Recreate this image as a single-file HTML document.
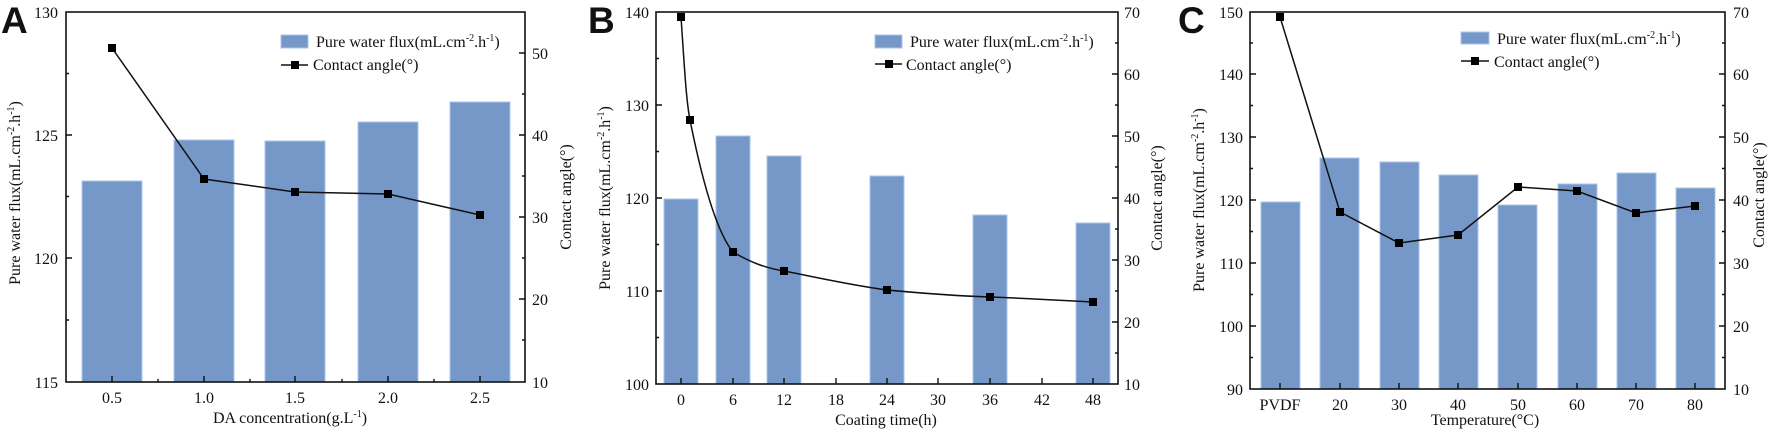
<!DOCTYPE html>
<html><head><meta charset="utf-8"><style>
html,body{margin:0;padding:0;background:#fff}
svg{display:block}
text{font-family:"Liberation Serif",serif;font-size:16px;fill:#111}
.L{font-family:"Liberation Sans",sans-serif;font-weight:bold;font-size:37px}
.bar{fill:#7698c9;stroke:#a9c4ec;stroke-width:1}
.ax{fill:none;stroke:#111;stroke-width:1.6}
.tk{fill:none;stroke:#111;stroke-width:1.4}
.ln{fill:none;stroke:#111;stroke-width:1.5}
.mk{fill:#000}
</style></head><body>
<svg width="1772" height="432" viewBox="0 0 1772 432" xmlns="http://www.w3.org/2000/svg">
<!-- ================= PANEL A ================= -->
<text class="L" x="1" y="33">A</text>
<rect class="bar" x="82" y="181" width="60" height="201"/>
<rect class="bar" x="174" y="140" width="60" height="242"/>
<rect class="bar" x="265" y="141" width="60" height="241"/>
<rect class="bar" x="358" y="122" width="60" height="260"/>
<rect class="bar" x="450" y="102" width="60" height="280"/>
<rect class="ax" x="66" y="12" width="459" height="370"/>
<path class="tk" d="M66 135h6M66 258h6M66 73.5h3M66 196.5h3M66 320h3
M525 299h-6M525 217h-6M525 135h-6M525 53h-6M525 340h-3M525 258h-3M525 176h-3M525 94h-3
M112 382v-6M204 382v-6M295 382v-6M388 382v-6M480 382v-6M158 382v-3M250 382v-3M342 382v-3M434 382v-3"/>
<g text-anchor="end"><text x="58" y="18">130</text><text x="58" y="141">125</text><text x="58" y="264">120</text><text x="58" y="388">115</text></g>
<g><text x="532" y="59">50</text><text x="532" y="141">40</text><text x="532" y="223">30</text><text x="532" y="305">20</text><text x="532" y="388">10</text></g>
<g text-anchor="middle"><text x="112" y="403">0.5</text><text x="204" y="403">1.0</text><text x="295" y="403">1.5</text><text x="388" y="403">2.0</text><text x="480" y="403">2.5</text>
<text x="290" y="423">DA concentration(g.L<tspan font-size="10" dy="-6">-1</tspan><tspan dy="6">)</tspan></text></g>
<text text-anchor="middle" transform="translate(20,193) rotate(-90)">Pure water flux(mL.cm<tspan font-size="10" dy="-6">-2</tspan><tspan dy="6">.h</tspan><tspan font-size="10" dy="-6">-1</tspan><tspan dy="6">)</tspan></text>
<text text-anchor="middle" transform="translate(571,197) rotate(-90)">Contact angle(°)</text>
<polyline class="ln" points="112,48 204,179 295,192 388,194 480,215"/>
<g class="mk"><rect x="108" y="44" width="8" height="8"/><rect x="200" y="175" width="8" height="8"/><rect x="291" y="188" width="8" height="8"/><rect x="384" y="190" width="8" height="8"/><rect x="476" y="211" width="8" height="8"/></g>
<rect class="bar" x="281" y="35" width="27" height="13"/>
<text x="316" y="47">Pure water flux(mL.cm<tspan font-size="10" dy="-6">-2</tspan><tspan dy="6">.h</tspan><tspan font-size="10" dy="-6">-1</tspan><tspan dy="6">)</tspan></text>
<path class="ln" d="M281 65h27"/><rect class="mk" x="291" y="61" width="8" height="8"/>
<text x="313" y="70">Contact angle(°)</text>

<!-- ================= PANEL B ================= -->
<text class="L" x="588" y="33">B</text>
<rect class="bar" x="664" y="199" width="34" height="185"/>
<rect class="bar" x="716" y="136" width="34" height="248"/>
<rect class="bar" x="767" y="156" width="34" height="228"/>
<rect class="bar" x="870" y="176" width="34" height="208"/>
<rect class="bar" x="973" y="215" width="34" height="169"/>
<rect class="bar" x="1076" y="223" width="34" height="161"/>
<rect class="ax" x="656" y="12" width="462" height="372"/>
<path class="tk" d="M656 105h6M656 198h6M656 291h6M656 58.5h3M656 151.5h3M656 244.5h3M656 337.5h3
M1118 322h-6M1118 260h-6M1118 198h-6M1118 136h-6M1118 74h-6M1118 353h-3M1118 291h-3M1118 229h-3M1118 167h-3M1118 105h-3M1118 43h-3
M681 384v-6M733 384v-6M784 384v-6M836 384v-6M887 384v-6M938 384v-6M990 384v-6M1042 384v-6M1093 384v-6"/>
<g text-anchor="end"><text x="649" y="18">140</text><text x="649" y="111">130</text><text x="649" y="204">120</text><text x="649" y="297">110</text><text x="649" y="390">100</text></g>
<g><text x="1124" y="18">70</text><text x="1124" y="80">60</text><text x="1124" y="142">50</text><text x="1124" y="204">40</text><text x="1124" y="266">30</text><text x="1124" y="328">20</text><text x="1124" y="390">10</text></g>
<g text-anchor="middle"><text x="681" y="405">0</text><text x="733" y="405">6</text><text x="784" y="405">12</text><text x="836" y="405">18</text><text x="887" y="405">24</text><text x="938" y="405">30</text><text x="990" y="405">36</text><text x="1042" y="405">42</text><text x="1093" y="405">48</text>
<text x="886" y="425">Coating time(h)</text></g>
<text text-anchor="middle" transform="translate(610,198) rotate(-90)">Pure water flux(mL.cm<tspan font-size="10" dy="-6">-2</tspan><tspan dy="6">.h</tspan><tspan font-size="10" dy="-6">-1</tspan><tspan dy="6">)</tspan></text>
<text text-anchor="middle" transform="translate(1162,198) rotate(-90)">Contact angle(°)</text>
<path class="ln" d="M681 17 C684 60 686 100 690 120 C700 170 715 230 733 252 C750 262 765 268 784 271 C820 278 850 285 887 290 C930 294 960 296 990 297 C1040 299 1070 301 1093 302"/>
<g class="mk"><rect x="677" y="13" width="8" height="8"/><rect x="686" y="116" width="8" height="8"/><rect x="729" y="248" width="8" height="8"/><rect x="780" y="267" width="8" height="8"/><rect x="883" y="286" width="8" height="8"/><rect x="986" y="293" width="8" height="8"/><rect x="1089" y="298" width="8" height="8"/></g>
<rect class="bar" x="875" y="35" width="27" height="13"/>
<text x="910" y="47">Pure water flux(mL.cm<tspan font-size="10" dy="-6">-2</tspan><tspan dy="6">.h</tspan><tspan font-size="10" dy="-6">-1</tspan><tspan dy="6">)</tspan></text>
<path class="ln" d="M875 64h27"/><rect class="mk" x="885" y="60" width="8" height="8"/>
<text x="906" y="70">Contact angle(°)</text>

<!-- ================= PANEL C ================= -->
<text class="L" x="1178" y="33">C</text>
<rect class="bar" x="1261" y="202" width="39" height="187"/>
<rect class="bar" x="1320" y="158" width="39" height="231"/>
<rect class="bar" x="1380" y="162" width="39" height="227"/>
<rect class="bar" x="1439" y="175" width="39" height="214"/>
<rect class="bar" x="1498" y="205" width="39" height="184"/>
<rect class="bar" x="1558" y="184" width="39" height="205"/>
<rect class="bar" x="1617" y="173" width="39" height="216"/>
<rect class="bar" x="1676" y="188" width="39" height="201"/>
<rect class="ax" x="1250" y="12" width="475" height="377"/>
<path class="tk" d="M1250 326h6M1250 263h6M1250 200h6M1250 137h6M1250 74h6M1250 357.5h3M1250 294.5h3M1250 231.5h3M1250 168.5h3M1250 105.5h3M1250 43h3
M1725 326h-6M1725 263h-6M1725 200h-6M1725 137h-6M1725 74h-6M1725 357.5h-3M1725 294.5h-3M1725 231.5h-3M1725 168.5h-3M1725 105.5h-3M1725 43h-3
M1280 389v-6M1340 389v-6M1399 389v-6M1458 389v-6M1518 389v-6M1577 389v-6M1636 389v-6M1695 389v-6"/>
<g text-anchor="end"><text x="1243" y="18">150</text><text x="1243" y="80">140</text><text x="1243" y="143">130</text><text x="1243" y="206">120</text><text x="1243" y="269">110</text><text x="1243" y="332">100</text><text x="1243" y="395">90</text></g>
<g><text x="1733" y="18">70</text><text x="1733" y="80">60</text><text x="1733" y="143">50</text><text x="1733" y="206">40</text><text x="1733" y="269">30</text><text x="1733" y="332">20</text><text x="1733" y="395">10</text></g>
<g text-anchor="middle"><text x="1280" y="410">PVDF</text><text x="1340" y="410">20</text><text x="1399" y="410">30</text><text x="1458" y="410">40</text><text x="1518" y="410">50</text><text x="1577" y="410">60</text><text x="1636" y="410">70</text><text x="1695" y="410">80</text>
<text x="1485" y="425">Temperature(°C)</text></g>
<text text-anchor="middle" transform="translate(1204,200) rotate(-90)">Pure water flux(mL.cm<tspan font-size="10" dy="-6">-2</tspan><tspan dy="6">.h</tspan><tspan font-size="10" dy="-6">-1</tspan><tspan dy="6">)</tspan></text>
<text text-anchor="middle" transform="translate(1764,195) rotate(-90)">Contact angle(°)</text>
<polyline class="ln" points="1280,17 1340,212 1399,243 1458,235 1518,187 1577,191 1636,213 1695,206"/>
<g class="mk"><rect x="1276" y="13" width="8" height="8"/><rect x="1336" y="208" width="8" height="8"/><rect x="1395" y="239" width="8" height="8"/><rect x="1454" y="231" width="8" height="8"/><rect x="1514" y="183" width="8" height="8"/><rect x="1573" y="187" width="8" height="8"/><rect x="1632" y="209" width="8" height="8"/><rect x="1691" y="202" width="8" height="8"/></g>
<rect class="bar" x="1461" y="32" width="28" height="12"/>
<text x="1497" y="44">Pure water flux(mL.cm<tspan font-size="10" dy="-6">-2</tspan><tspan dy="6">.h</tspan><tspan font-size="10" dy="-6">-1</tspan><tspan dy="6">)</tspan></text>
<path class="ln" d="M1461 61h28"/><rect class="mk" x="1471" y="57" width="8" height="8"/>
<text x="1494" y="67">Contact angle(°)</text>
</svg>
</body></html>
